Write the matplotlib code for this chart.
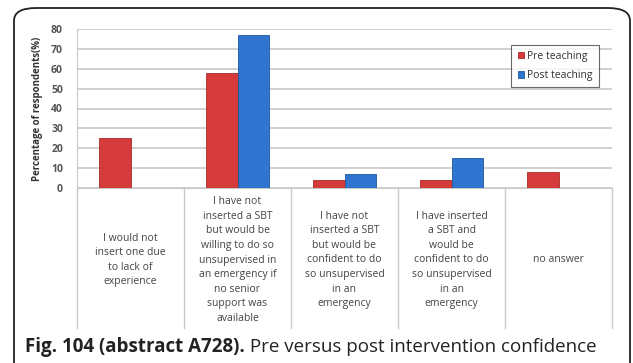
import matplotlib
matplotlib.use("Agg")
import matplotlib.pyplot as plt
import matplotlib.transforms as mtransforms
from matplotlib.patches import FancyBboxPatch
import numpy as np

plt.rcParams['font.family'] = ['Open Sans', 'DejaVu Sans']

# data
categories = [
    "I would not\ninsert one due\nto lack of\nexperience",
    "I have not\ninserted a SBT\nbut would be\nwilling to do so\nunsupervised in\nan emergency if\nno senior\nsupport was\navailable",
    "I have not\ninserted a SBT\nbut would be\nconfident to do\nso unsupervised\nin an\nemergency",
    "I have inserted\na SBT and\nwould be\nconfident to do\nso unsupervised\nin an\nemergency",
    "no answer",
]
pre_teaching = [25, 58, 4, 4, 8]
post_teaching = [0, 77, 7, 15, 0]
y_ticks = [0, 10, 20, 30, 40, 50, 60, 70, 80]

W, H = 633, 363
fig = plt.figure(figsize=(W / 100, H / 100), dpi=100)

# rounded outer frame of the figure panel
frame = FancyBboxPatch((14 / W, -0.2), (630 - 14) / W, (H - 8) / H + 0.2,
                       boxstyle="round,pad=0,rounding_size=0.035",
                       transform=fig.transFigure, fill=False,
                       edgecolor='#222222', linewidth=1.3)
fig.patches.append(frame)

ax = fig.add_axes([77 / W, (H - 188) / H, (612 - 77) / W, (188 - 29) / H])

x = np.arange(len(categories))
width = 0.29
red = '#D63B3B'
blue = '#2F74CF'
ax.bar(x - width / 2, pre_teaching, width, color=red, edgecolor='#A82A2A',
       linewidth=0.6, label='Pre teaching', zorder=3)
ax.bar(x + width / 2, post_teaching, width, color=blue, edgecolor='#1F559E',
       linewidth=0.6, label='Post teaching', zorder=3)

ax.set_xlim(-0.5, len(categories) - 0.5)
ax.set_ylim(0, 80)
ax.set_yticks(y_ticks)
ax.set_xticks([])
ax.tick_params(axis='y', length=0, pad=10, labelsize=7.5, labelcolor='#555555')
for lbl in ax.get_yticklabels():
    lbl.set_fontweight('bold')
ax.grid(axis='y', color='#C8C8C8', linewidth=1.2, zorder=0)
for s in ['top', 'right']:
    ax.spines[s].set_visible(False)
ax.spines['left'].set_color('#C8C8C8')
ax.spines['bottom'].set_color('#C8C8C8')
ax.set_ylabel('Percentage of respondents(%)', fontsize=7, fontweight='bold',
              color='#333333', labelpad=6)

# category label cells under the axis
trans = mtransforms.blended_transform_factory(ax.transData, ax.transAxes)
cell_bottom = -(328 - 188) / (188 - 29)
cell_mid = -(260 - 188) / (188 - 29)
for b in np.arange(len(categories) + 1) - 0.5:
    ax.plot([b, b], [0, cell_bottom], transform=trans, color='#C8C8C8',
            linewidth=1, clip_on=False)
for xi, cat in zip(x, categories):
    ax.text(xi, cell_mid, cat, transform=trans, ha='center', va='center',
            fontsize=7.5, color='#444444', linespacing=1.45)

leg = ax.legend(loc='upper right', bbox_to_anchor=(0.985, 0.935), fontsize=7.5,
                frameon=True, fancybox=False, edgecolor='#444444',
                handlelength=0.6, handleheight=0.6, handletextpad=0.3,
                borderpad=0.6, labelspacing=0.8)
leg.get_frame().set_linewidth(0.8)
for t in leg.get_texts():
    t.set_color('#333333')

# caption: bold figure number followed by regular text
cap = fig.text(25 / W, (H - 347) / H, 'Fig. 104 (abstract A728).', fontsize=13.5,
               fontweight='bold', color='#222222', va='center')
ax.annotate(' Pre versus post intervention confidence', xy=(1, 0.5),
            xycoords=cap, va='center', ha='left', fontsize=13.5,
            color='#222222', annotation_clip=False)

fig.savefig('out.png', dpi=100)
